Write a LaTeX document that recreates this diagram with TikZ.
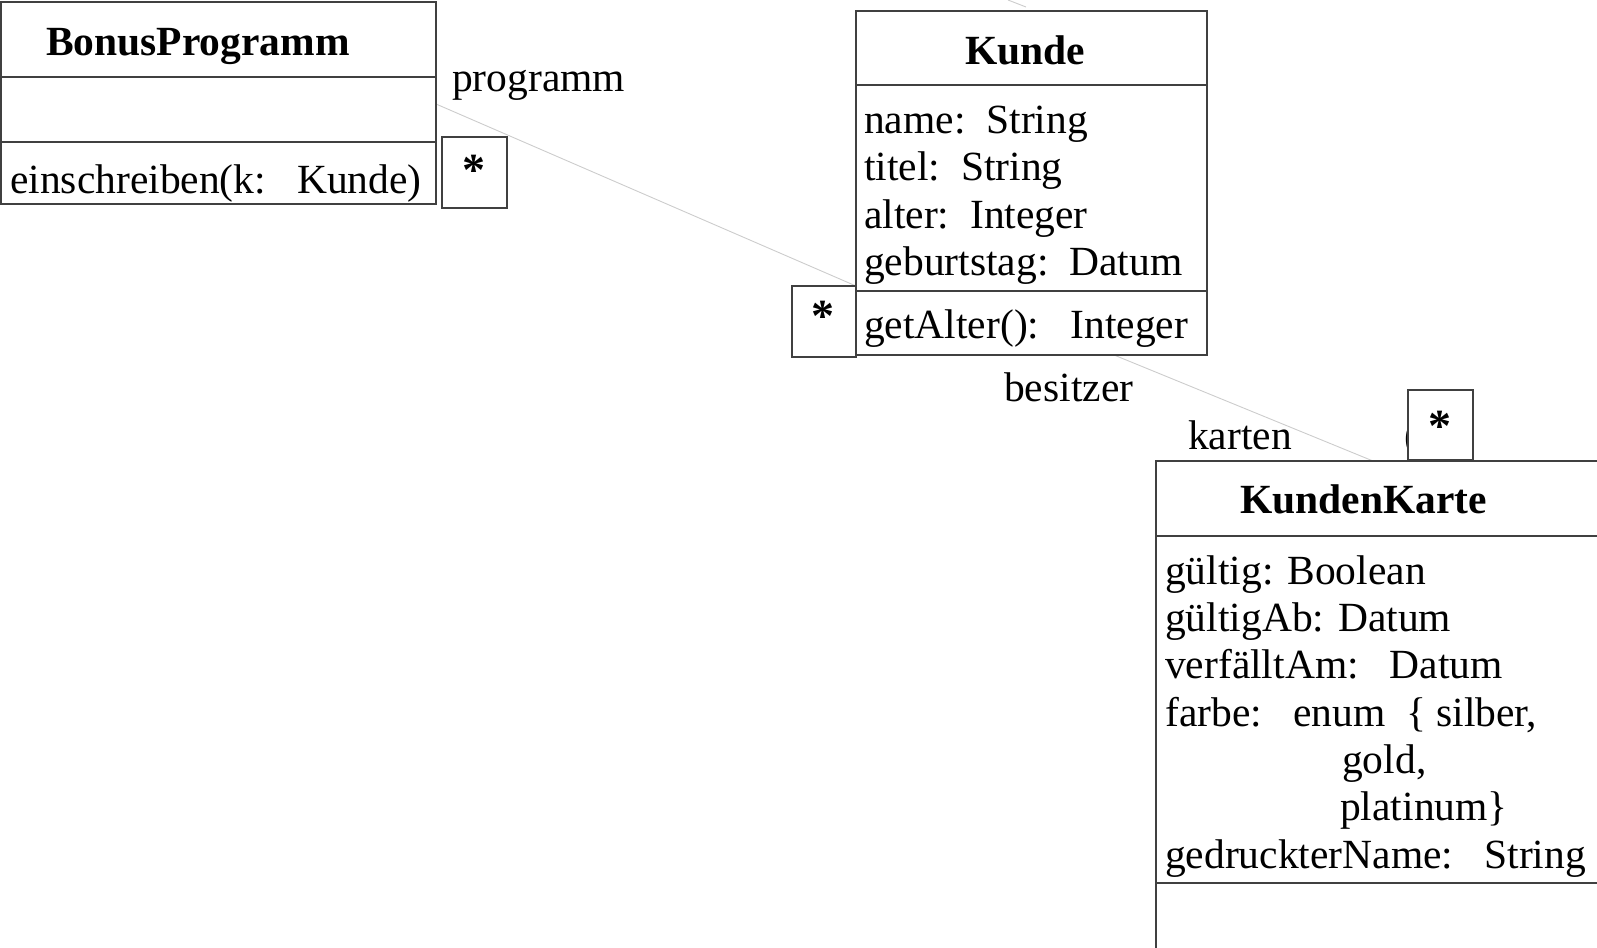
\documentclass[tikz,border=0pt]{standalone}
\usepackage{fontspec}
\setmainfont{Liberation Serif}
\begin{document}
\begin{tikzpicture}[x=1pt,y=-1pt,
  box/.style={draw=black!75, line width=1.4pt, fill=white, inner sep=0pt, outer sep=0pt, anchor=north west},
  txt/.style={inner sep=0pt, anchor=base west, font=\fontsize{41.5}{47.7}\selectfont},
  ttl/.style={inner sep=0pt, anchor=base west, font=\fontsize{41.5}{47.7}\selectfont\bfseries},
  star/.style={inner sep=0pt, anchor=base, font=\fontsize{46}{50}\selectfont\bfseries},
  assoc/.style={draw=black!20, line width=0.9pt}
]
\useasboundingbox (0,0) rectangle (1597,947);
\begin{scope}
\clip (0,0) rectangle (1597,947);
% connectors (behind)
\coordinate (bpR) at (436,104);
\coordinate (kuL) at (856,286);
\coordinate (kuB) at (1114,355);
\coordinate (kkT) at (1373,461);
\coordinate (topA) at (1008,0);
\coordinate (topB) at (1026,7);
\draw[assoc] (bpR) -- (kuL);
\draw[assoc] (kuB) -- (kkT);
\draw[assoc] (topA) -- (topB);

% BonusProgramm
\node[box, minimum width=435pt, minimum height=75pt] (bpHead) at (1,2) {};
\node[box, minimum width=435pt, minimum height=65pt] (bpAttr) at (1,77) {};
\node[box, minimum width=435pt, minimum height=62pt] (bpOps) at (1,142) {};
\node[ttl] (bpName) at (46,56) {BonusProgramm};
\node[txt] (bpOp1) at (10,193) {einschreiben(k:\ \ \ Kunde)};
\node[box, minimum width=65pt, minimum height=71pt] (bpStarBox) at (442,137) {};
\node[star] (bpStar) at (474,185) {*};
\node[txt] (lblProgramm) at (452,92) {programm};

% Kunde
\node[box, minimum width=351pt, minimum height=74pt] (kuHead) at (856,11) {};
\node[box, minimum width=351pt, minimum height=206pt] (kuAttr) at (856,85) {};
\node[box, minimum width=351pt, minimum height=64pt] (kuOps) at (856,291) {};
\node[ttl] (kuName) at (965,65) {Kunde};
\node[txt] (kuA1) at (864,133) {name:\ \ String};
\node[txt] (kuA2) at (864,180) {titel:\ \ String};
\node[txt] (kuA3) at (864,228) {alter:\ \ Integer};
\node[txt] (kuA4) at (864,275) {geburtstag:\ \ Datum};
\node[txt] (kuOp1) at (864,338) {getAlter():\ \ \ Integer};
\node[box, minimum width=64pt, minimum height=71pt] (kuStarBox) at (792,286) {};
\node[star] (kuStar) at (823,331) {*};
\node[txt] (lblBesitzer) at (1004,401) {besitzer};

% KundenKarte
\node[txt] (paren) at (1404.5,449) {(};
\node[box, minimum width=65pt, minimum height=70pt] (kkStarBox) at (1408,390) {};
\node[star] (kkStar) at (1440,441) {*};
\node[txt] (lblKarten) at (1188,449) {karten};
\node[box, minimum width=500pt, minimum height=75pt] (kkHead) at (1156,461) {};
\node[box, minimum width=500pt, minimum height=347pt] (kkAttr) at (1156,536) {};
\node[box, minimum width=500pt, minimum height=120pt] (kkOps) at (1156,883) {};
\node[ttl] (kkName) at (1240,513) {KundenKarte};
\node[txt] (kkA1) at (1165,584) {gültig: Boolean};
\node[txt] (kkA2) at (1165,631) {gültigAb: Datum};
\node[txt] (kkA3) at (1165,678) {verfälltAm:\ \ \ Datum};
\node[txt] (kkA4) at (1165,726) {farbe:\ \ \ enum\ \ \{ silber,};
\node[txt] (kkA5) at (1342,773) {gold,};
\node[txt] (kkA6) at (1340,820) {platinum\}};
\node[txt] (kkA7) at (1165,868) {gedruckterName:\ \ \ String};
\end{scope}
\end{tikzpicture}
\end{document}
